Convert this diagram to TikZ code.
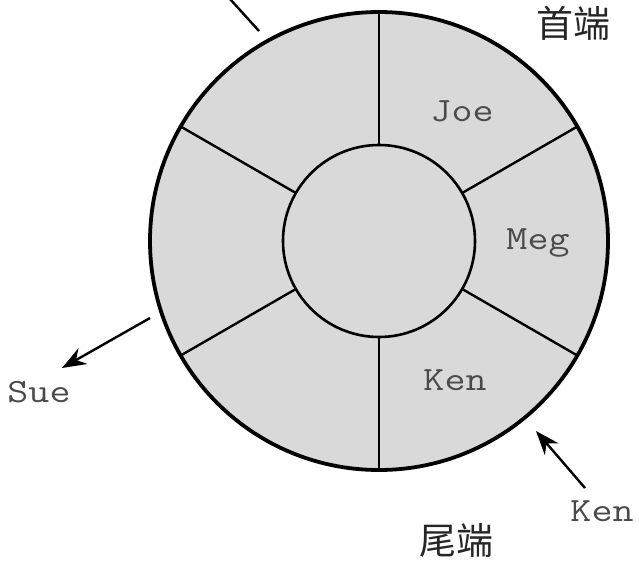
\documentclass[tikz,border=0pt]{standalone}
\usepackage{fontspec}
\newfontfamily\cjk{Noto Sans CJK SC}
\usetikzlibrary{arrows.meta}
\definecolor{ringgray}{HTML}{D9D9D9}
\definecolor{txtgray}{HTML}{4A4A4A}
\begin{document}
\begin{tikzpicture}[x=1pt,y=-1pt,
  ring/.style={circle,draw=black,fill=ringgray,inner sep=0pt,outer sep=0pt},
  spoke/.style={draw=black,line width=2.4pt},
  lbl/.style={font=\ttfamily\fontsize{34}{36}\selectfont,text=txtgray,inner sep=0pt,xscale=1.2,transform shape},
  cn/.style={font=\cjk\fontsize{37}{39}\selectfont,text=black!85,inner sep=0pt},
  ptr/.style={draw=black,line width=2.4pt,-{Stealth[length=24pt,width=18pt]}}]
\useasboundingbox (0,0) rectangle (639,565);
\node[ring,line width=3.8pt,minimum size=458pt] (outer) at (379,241) {};
\node[ring,line width=2.6pt,minimum size=192pt] (inner) at (379,241) {};
\foreach \a in {90,30,-30,-90,-150,150}
  \draw[spoke] (inner.\a) -- (outer.\a);
\node[lbl] (joe) at (462,111) {Joe};
\node[lbl] (meg) at (538,243) {Meg};
\node[lbl] (ken) at (455,380) {Ken};
\node[lbl] (sue) at (39,392) {Sue};
\node[lbl] (kenin) at (602,511) {Ken};
\node[cn] (head) at (573,23) {首端};
\node[cn] (tail) at (456,541) {尾端};
\coordinate (c1) at (230,-1);
\coordinate (c2) at (259,31);
\draw[line width=2.4pt] (c1) -- (c2);
\coordinate (s1) at (150,318);
\coordinate (s2) at (62,368);
\draw[ptr] (s1) -- (s2);
\coordinate (k1) at (585,488);
\coordinate (k2) at (536,431);
\draw[ptr] (k1) -- (k2);
\end{tikzpicture}
\end{document}
